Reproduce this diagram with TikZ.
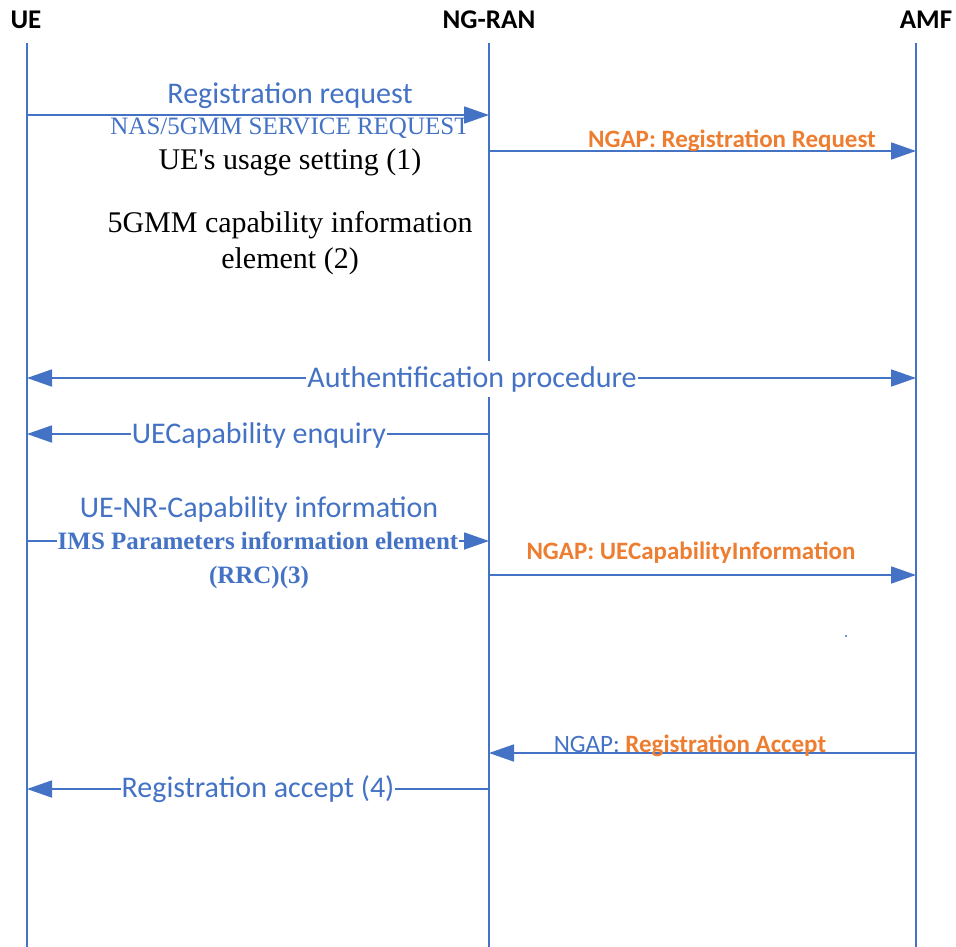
\documentclass[tikz,border=0pt]{standalone}
\usepackage{fontspec}
\setmainfont{Liberation Serif}
\newfontfamily\calibri{Carlito}
\usetikzlibrary{arrows.meta}
\definecolor{msgblue}{HTML}{4472C4}
\definecolor{ngaporange}{HTML}{ED7D31}

\begin{document}
\begin{tikzpicture}[
    x=1pt, y=-1pt,
    entity/.style={font=\calibri\bfseries\fontsize{27}{31}\selectfont, anchor=base, inner sep=0pt},
    lifeline/.style={draw=msgblue, line width=1.8pt},
    msg/.style={draw=msgblue, line width=1.8pt, -{Triangle[length=25pt,width=17pt]}},
    both/.style={draw=msgblue, line width=1.8pt, {Triangle[length=25pt,width=17pt]}-{Triangle[length=25pt,width=17pt]}},
    msglabel/.style={text=msgblue, font=\calibri\fontsize{30}{35}\selectfont, anchor=base, inner sep=0pt},
    ngaplabel/.style={text=ngaporange, font=\calibri\bfseries\fontsize{25}{30}\selectfont, anchor=base, inner sep=0pt},
    nastext/.style={text=msgblue, font=\fontsize{25}{30}\selectfont, anchor=base, inner sep=0pt},
    ietext/.style={text=black, font=\fontsize{30}{36}\selectfont, anchor=base, inner sep=0pt},
    cover/.style={fill=white, inner xsep=1pt, inner ysep=5pt},
    ]

    \useasboundingbox (0,0) rectangle (956,947);

    % Entities
    \node[entity] (ue) at (26,29) {UE};
    \node[entity] (ran) at (489,29) {NG-RAN};
    \node[entity] (amf) at (926,29) {AMF};

    % Lifelines
    \coordinate (ue-top) at (27,43);
    \coordinate (ue-end) at (27,947);
    \coordinate (ran-top) at (489,43);
    \coordinate (ran-end) at (489,947);
    \coordinate (amf-top) at (916,43);
    \coordinate (amf-end) at (916,947);
    \draw[lifeline] (ue-top) -- (ue-end);
    \draw[lifeline] (ran-top) -- (ran-end);
    \draw[lifeline] (amf-top) -- (amf-end);

    % Message ends on the lifelines
    \coordinate (ue-m1) at (27,115);
    \coordinate (ran-m1) at (489,115);
    \coordinate (ran-m2) at (489,151);
    \coordinate (amf-m2) at (916,151);
    \coordinate (ue-m3) at (27,378);
    \coordinate (amf-m3) at (916,378);
    \coordinate (ran-m4) at (489,434);
    \coordinate (ue-m4) at (27,434);
    \coordinate (ue-m5) at (27,541);
    \coordinate (ran-m5) at (489,541);
    \coordinate (ran-m6) at (489,575);
    \coordinate (amf-m6) at (916,575);
    \coordinate (amf-m7) at (916,753);
    \coordinate (ran-m7) at (489,753);
    \coordinate (ran-m8) at (489,789);
    \coordinate (ue-m8) at (27,789);

    % Messages
    \draw[msg] (ue-m1) -- (ran-m1);
    \draw[msg] (ran-m2) -- (amf-m2);
    \draw[both] (ue-m3) -- (amf-m3);
    \draw[msg] (ran-m4) -- (ue-m4);
    \draw[msg] (ue-m5) -- (ran-m5);
    \draw[msg] (ran-m6) -- (amf-m6);
    \draw[msg] (amf-m7) -- (ran-m7);
    \draw[msg] (ran-m8) -- (ue-m8);

    % Registration request
    \node[msglabel] (regreq) at (290,104) {Registration request};
    \node[nastext] (nas) at (290,135) {NAS/5GMM SERVICE REQUEST};
    \node[ietext] (usage) at (290,170) {UE\textquotesingle s usage setting (1)};
    \node[ietext] (capa) at (290,232) {5GMM capability information};
    \node[ietext] (capb) at (290,268) {element (2)};
    \node[ngaplabel] (ngapreq) at (732,148) {NGAP: Registration Request};

    % Authentication and capability
    \node[msglabel, cover] (auth) at (472,387) {Authentification procedure};
    \node[msglabel, cover] (enq) at (259,443) {UECapability enquiry};
    \node[msglabel] (nrcap) at (259,517) {UE-NR-Capability information};
    \node[nastext, cover, inner ysep=2pt, font=\bfseries\fontsize{25}{30}\selectfont] (ims) at (258,549) {IMS Parameters information element};
    \node[nastext, font=\bfseries\fontsize{25}{30}\selectfont] (rrc) at (259,583) {(RRC)(3)};
    \node[ngaplabel] (ngapcap) at (691,559) {NGAP: UECapabilityInformation};
    \fill[msgblue] (846,636) circle (1.2);

    % Registration accept
    \node[ngaplabel] (ngapacc) at (690,752) {{\mdseries\color{msgblue}NGAP: }Registration Accept};
    \node[msglabel, cover] (regacc) at (258,797) {Registration accept (4)};

\end{tikzpicture}
\end{document}
